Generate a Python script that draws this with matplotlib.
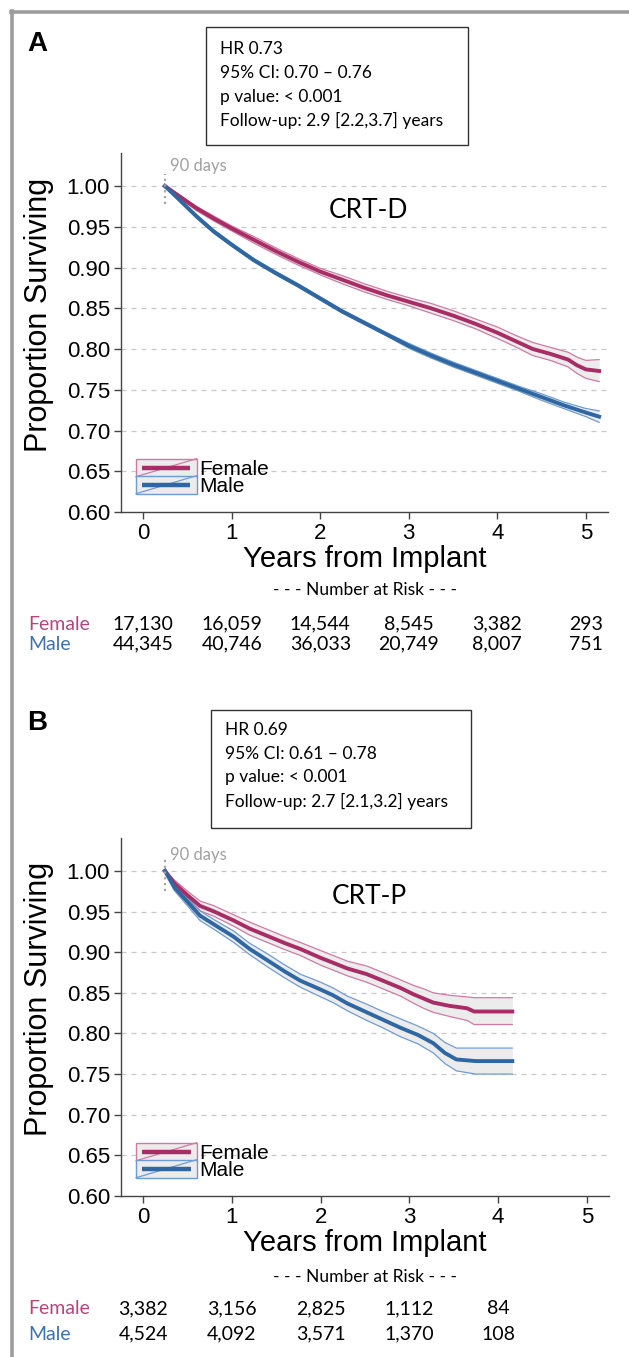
import matplotlib
matplotlib.use("Agg")
import matplotlib.pyplot as plt
from matplotlib.patches import Rectangle
from matplotlib.lines import Line2D
from matplotlib.legend_handler import HandlerBase
from matplotlib.transforms import blended_transform_factory

# ---------------- data ----------------
years_ticks = [0, 1, 2, 3, 4, 5]
y_ticks = [0.60, 0.65, 0.70, 0.75, 0.80, 0.85, 0.90, 0.95, 1.00]
y_tick_labels = ["0.60", "0.65", "0.70", "0.75", "0.80", "0.85", "0.90", "0.95", "1.00"]
landmark = 0.246  # 90 days

# Panel A: CRT-D
fA_t = [0.246, 0.40, 0.60, 0.80, 1.00, 1.25, 1.50, 1.75, 2.00, 2.25, 2.50, 2.75, 3.00, 3.25,
        3.50, 3.75, 4.00, 4.20, 4.40, 4.60, 4.80, 4.90, 5.00, 5.15]
fA_s = [1.000, 0.988, 0.973, 0.960, 0.948, 0.934, 0.920, 0.907, 0.895, 0.885, 0.875, 0.866, 0.858, 0.850,
        0.841, 0.831, 0.820, 0.810, 0.800, 0.794, 0.787, 0.780, 0.775, 0.773]
fA_lo = [1.000, 0.986, 0.970, 0.957, 0.945, 0.930, 0.916, 0.903, 0.891, 0.880, 0.870, 0.861, 0.853, 0.844,
         0.835, 0.825, 0.813, 0.803, 0.792, 0.786, 0.778, 0.770, 0.764, 0.760]
fA_hi = [1.000, 0.990, 0.975, 0.963, 0.951, 0.938, 0.924, 0.911, 0.899, 0.890, 0.880, 0.871, 0.863, 0.856,
         0.847, 0.837, 0.827, 0.817, 0.808, 0.802, 0.796, 0.790, 0.786, 0.787]

mA_t = [0.246, 0.40, 0.60, 0.80, 1.00, 1.25, 1.50, 1.75, 2.00, 2.25, 2.50, 2.75, 3.00, 3.25,
        3.50, 3.75, 4.00, 4.25, 4.50, 4.75, 5.00, 5.15]
mA_s = [1.000, 0.984, 0.963, 0.944, 0.928, 0.909, 0.893, 0.878, 0.862, 0.846, 0.832, 0.818, 0.804, 0.792,
        0.781, 0.771, 0.761, 0.751, 0.741, 0.731, 0.722, 0.717]
mA_lo = [1.000, 0.983, 0.961, 0.942, 0.926, 0.907, 0.891, 0.876, 0.860, 0.844, 0.830, 0.816, 0.801, 0.789,
         0.778, 0.768, 0.758, 0.748, 0.737, 0.727, 0.717, 0.710]
mA_hi = [1.000, 0.985, 0.965, 0.946, 0.930, 0.911, 0.895, 0.880, 0.864, 0.848, 0.834, 0.820, 0.807, 0.795,
         0.784, 0.774, 0.764, 0.754, 0.745, 0.735, 0.727, 0.724]

# Panel B: CRT-P
fB_t = [0.246, 0.35, 0.50, 0.64, 0.80, 1.02, 1.20, 1.40, 1.60, 1.77, 2.00, 2.14, 2.30, 2.52, 2.70, 2.90,
        3.05, 3.16, 3.27, 3.45, 3.65, 3.73, 4.16]
fB_s = [1.000, 0.985, 0.970, 0.957, 0.950, 0.939, 0.929, 0.920, 0.911, 0.904, 0.893, 0.887, 0.880, 0.873,
        0.865, 0.856, 0.848, 0.843, 0.838, 0.834, 0.831, 0.827, 0.827]
fB_lo = [1.000, 0.981, 0.965, 0.951, 0.944, 0.932, 0.921, 0.912, 0.903, 0.896, 0.884, 0.878, 0.871, 0.863,
         0.855, 0.846, 0.837, 0.831, 0.826, 0.821, 0.816, 0.811, 0.811]
fB_hi = [1.000, 0.989, 0.975, 0.963, 0.957, 0.946, 0.937, 0.928, 0.919, 0.912, 0.902, 0.896, 0.889, 0.883,
         0.875, 0.866, 0.859, 0.855, 0.850, 0.847, 0.845, 0.844, 0.844]

mB_t = [0.246, 0.35, 0.50, 0.64, 0.80, 1.02, 1.20, 1.40, 1.60, 1.77, 2.00, 2.14, 2.30, 2.52, 2.70, 2.90,
        3.10, 3.27, 3.40, 3.53, 3.75, 4.16]
mB_s = [1.000, 0.980, 0.962, 0.945, 0.934, 0.919, 0.904, 0.890, 0.876, 0.865, 0.854, 0.847, 0.837, 0.826,
        0.817, 0.807, 0.798, 0.788, 0.776, 0.768, 0.766, 0.766]
mB_lo = [1.000, 0.976, 0.957, 0.939, 0.928, 0.912, 0.897, 0.882, 0.868, 0.857, 0.845, 0.838, 0.828, 0.816,
         0.807, 0.796, 0.787, 0.776, 0.763, 0.754, 0.750, 0.750]
mB_hi = [1.000, 0.984, 0.967, 0.951, 0.940, 0.926, 0.911, 0.898, 0.884, 0.873, 0.863, 0.856, 0.846, 0.836,
         0.827, 0.818, 0.809, 0.800, 0.789, 0.782, 0.782, 0.782]

riskA_female = ["17,130", "16,059", "14,544", "8,545", "3,382", "293"]
riskA_male = ["44,345", "40,746", "36,033", "20,749", "8,007", "751"]
riskB_female = ["3,382", "3,156", "2,825", "1,112", "84"]
riskB_male = ["4,524", "4,092", "3,571", "1,370", "108"]

statsA = ["HR 0.73", "95% CI: 0.70 \u2013 0.76", "p value: < 0.001", "Follow-up: 2.9 [2.2,3.7] years"]
statsB = ["HR 0.69", "95% CI: 0.61 \u2013 0.78", "p value: < 0.001", "Follow-up: 2.7 [2.1,3.2] years"]

# ---------------- style ----------------
F_MAIN, F_CI, F_TXT = "#a82c65", "#cf7aa3", "#b5467c"
M_MAIN, M_CI, M_TXT = "#2e67a1", "#6f9cd0", "#3d72ad"
FILL = "#ececec"
SANS = ["Liberation Sans", "DejaVu Sans"]
CAL = ["Lato", "DejaVu Sans"]

W, H = 629, 1357
def fx(px): return px / W
def fy(py): return 1 - py / H

fig = plt.figure(figsize=(W / 100, H / 100), dpi=100)
fig.patch.set_facecolor("white")

# gray frame (top and left)
fig.add_artist(Line2D([fx(11), 1.0], [fy(12), fy(12)], color="#9c9c9c", lw=2.6, transform=fig.transFigure))
fig.add_artist(Line2D([fx(12), fx(12)], [fy(11), 0.0], color="#9c9c9c", lw=2.6, transform=fig.transFigure))


class KMHandler(HandlerBase):
    def __init__(self, main, ci):
        super().__init__()
        self.main, self.ci = main, ci

    def create_artists(self, legend, orig_handle, xdescent, ydescent, width, height, fontsize, trans):
        x0, y0 = -xdescent, -ydescent
        rect = Rectangle((x0, y0), width, height, facecolor=FILL, edgecolor=self.ci, lw=1.0, transform=trans)
        diag = Line2D([x0, x0 + width], [y0, y0 + height], color=self.ci, lw=0.9, transform=trans)
        line = Line2D([x0 + 0.1 * width, x0 + 0.9 * width], [y0 + height / 2] * 2, color=self.main,
                      lw=3.2, solid_capstyle="butt", transform=trans)
        return [rect, diag, line]


def draw_panel(ax, groups, label, label_y, ninety_y, dot_range):
    ax.set_xlim(-0.25, 5.25)
    ax.set_ylim(0.60, 1.0405)
    for yv in y_ticks[1:]:
        ax.axhline(yv, color="#c8c8c8", lw=0.9, ls=(0, (4, 4)), zorder=0)
    handles = []
    for (t, s, lo, hi, main, ci, name) in groups:
        ax.fill_between(t, lo, hi, color=FILL, lw=0, zorder=1)
    for (t, s, lo, hi, main, ci, name) in groups:
        ax.plot(t, lo, color=ci, lw=0.9, zorder=2)
        ax.plot(t, hi, color=ci, lw=0.9, zorder=2)
    for (t, s, lo, hi, main, ci, name) in groups:
        h, = ax.plot(t, s, color=main, lw=2.8, zorder=3, label=name)
        handles.append(h)
    ax.plot([landmark, landmark], dot_range, color="#a6a6a6", lw=1.6, ls=(0, (1, 1.6)), zorder=4)
    ax.text(0.30, ninety_y, "90 days", color="#a0a0a0", fontsize=12, family=CAL, va="center", ha="left")
    ax.text(2.55, label_y, label, fontsize=19, family=CAL, ha="center", va="center")

    ax.set_xticks(years_ticks)
    ax.set_xticklabels([str(v) for v in years_ticks], family=SANS)
    ax.set_yticks(y_ticks)
    ax.set_yticklabels(y_tick_labels, family=SANS)
    ax.tick_params(direction="out", length=5, width=1, color="#444444", labelsize=16, pad=3)
    for sp in ["top", "right"]:
        ax.spines[sp].set_visible(False)
    for sp in ["left", "bottom"]:
        ax.spines[sp].set_color("#444444")
        ax.spines[sp].set_linewidth(1.0)
    ax.set_xlabel("Years from Implant", fontsize=21, family=SANS)
    ax.set_ylabel("Proportion Surviving", fontsize=22, family=SANS)
    ax.xaxis.set_label_coords(0.5, -0.092)
    ax.yaxis.set_label_coords(-0.138, 0.55)

    leg = ax.legend(handles=handles, loc="lower left", bbox_to_anchor=(0.031, 0.045), frameon=False,
                    prop={"family": SANS, "size": 15}, handlelength=2.9, handleheight=0.95,
                    labelspacing=-0.15, borderpad=0, borderaxespad=0, handletextpad=0.15,
                    handler_map={handles[0]: KMHandler(F_MAIN, F_CI), handles[1]: KMHandler(M_MAIN, M_CI)})
    return leg


def draw_box(x0, y0, x1, y1, lines, text_x, line_ys):
    fig.add_artist(Rectangle((fx(x0), fy(y1)), fx(x1) - fx(x0), fy(y0) - fy(y1), transform=fig.transFigure,
                             facecolor="white", edgecolor="#333333", lw=1.0))
    for txt, yy in zip(lines, line_ys):
        fig.text(fx(text_x), fy(yy), txt, fontsize=12.5, family=CAL, ha="left", va="center")


def draw_risk(ax, female, male, title_y, f_y, m_y):
    tr = blended_transform_factory(ax.transData, fig.transFigure)
    fig.text(0.5 * (fx(121) + fx(608)), fy(title_y), "- - - Number at Risk - - -", fontsize=12.5, family=CAL,
             ha="center", va="center")
    fig.text(fx(28), fy(f_y), "Female", color=F_TXT, fontsize=14, family=CAL, ha="left", va="center")
    fig.text(fx(28), fy(m_y), "Male", color=M_TXT, fontsize=14, family=CAL, ha="left", va="center")
    for i, v in enumerate(female):
        ax.text(years_ticks[i], fy(f_y), v, transform=tr, fontsize=14, family=CAL, ha="center", va="center")
    for i, v in enumerate(male):
        ax.text(years_ticks[i], fy(m_y), v, transform=tr, fontsize=14, family=CAL, ha="center", va="center")


# Panel A
axA = fig.add_axes([fx(121), fy(512), fx(608) - fx(121), fy(153) - fy(512)])
draw_panel(axA, [(fA_t, fA_s, fA_lo, fA_hi, F_MAIN, F_CI, "Female"),
                 (mA_t, mA_s, mA_lo, mA_hi, M_MAIN, M_CI, "Male")],
           "CRT-D", 0.970, 1.0246, [0.978, 1.015])
fig.text(fx(37), fy(44), "A", fontsize=20, fontweight="bold", family=SANS, ha="center", va="center")
draw_box(206, 27, 468, 145, statsA, 220, [49, 73, 97, 120])
draw_risk(axA, riskA_female, riskA_male, 590, 624, 644)

# Panel B
axB = fig.add_axes([fx(121), fy(1196), fx(609) - fx(121), fy(838) - fy(1196)])
draw_panel(axB, [(fB_t, fB_s, fB_lo, fB_hi, F_MAIN, F_CI, "Female"),
                 (mB_t, mB_s, mB_lo, mB_hi, M_MAIN, M_CI, "Male")],
           "CRT-P", 0.969, 1.0196, [0.975, 1.015])
fig.text(fx(37), fy(723), "B", fontsize=20, fontweight="bold", family=SANS, ha="center", va="center")
draw_box(211, 710, 471, 828, statsB, 225, [730, 754, 777, 801])
draw_risk(axB, riskB_female, riskB_male, 1277, 1309, 1334)

fig.savefig("out.png", dpi=100)
